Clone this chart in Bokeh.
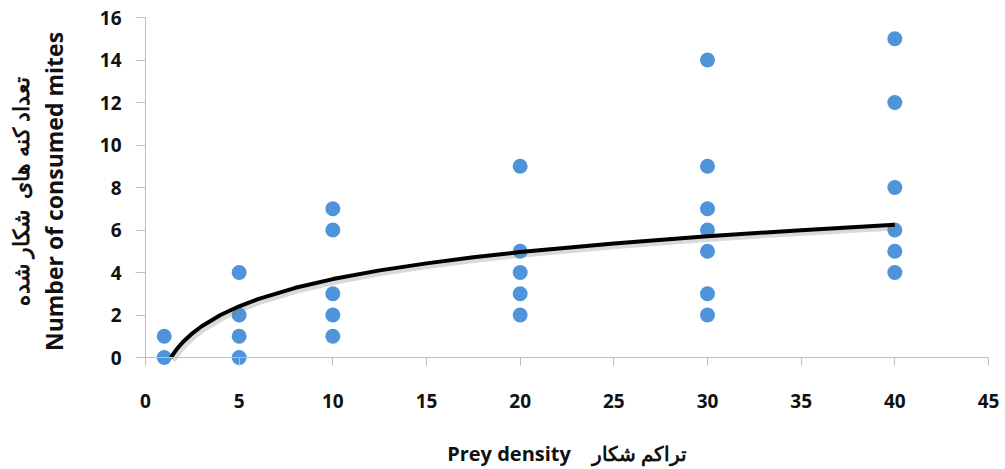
from bokeh.plotting import figure
from bokeh.models import Range1d, LinearAxis, FixedTicker, Span, ColumnDataSource
from bokeh.embed import file_html
from bokeh.resources import INLINE

# ---- data ----
density = [1, 1, 5, 5, 5, 5, 10, 10, 10, 10, 10, 20, 20, 20, 20, 20,
           30, 30, 30, 30, 30, 30, 30, 40, 40, 40, 40, 40, 40]
consumed = [0, 1, 0, 1, 2, 4, 1, 2, 3, 6, 7, 2, 3, 4, 5, 9,
            2, 3, 5, 6, 7, 9, 14, 4, 5, 6, 8, 12, 15]

# trend curve
trend_x = [1.35, 1.7, 2, 2.5, 3, 4, 5, 6, 8, 10, 12.5, 15, 17.5, 20, 25, 30, 35, 40]
trend_y = [0.0, 0.43, 0.73, 1.14, 1.47, 2.0, 2.41, 2.75, 3.28, 3.69, 4.10, 4.43,
           4.72, 4.96, 5.37, 5.71, 5.99, 6.25]

x_ticks = [0, 5, 10, 15, 20, 25, 30, 35, 40, 45]
y_ticks = [0, 2, 4, 6, 8, 10, 12, 14, 16]

x_title = "Prey density\u00a0\u00a0\u00a0\u00a0تراکم شکار"
y_title_en = "Number of consumed mites"
y_title_fa = "تعداد کنه های\u00a0\u00a0شکار شده"

FONT = "Open Sans"
AX_COL = "#BFBFBF"
TXT = "#111111"

px_per_unit = 21.25
y_pad = 8 / px_per_unit

p = figure(width=1000, height=469, output_backend="svg", toolbar_location=None,
           x_range=Range1d(0, 45), y_range=Range1d(-y_pad, 16),
           min_border_left=145, min_border_right=12, min_border_top=17,
           min_border_bottom=100, x_axis_location=None, y_axis_location=None)
p.outline_line_color = None
p.xgrid.visible = False
p.ygrid.visible = False
p.background_fill_color = "white"
p.border_fill_color = "white"

# main y axis
yax = LinearAxis(ticker=FixedTicker(ticks=y_ticks), axis_label=y_title_en)
yax.axis_line_color = AX_COL
yax.major_tick_line_color = AX_COL
yax.major_tick_out = 10
yax.major_tick_in = 0
yax.minor_tick_line_color = None
yax.major_label_standoff = 14
yax.major_label_text_font = FONT
yax.major_label_text_font_size = "19px"
yax.major_label_text_font_style = "bold"
yax.major_label_text_color = TXT
yax.axis_label_text_font = FONT
yax.axis_label_text_font_size = "23px"
yax.axis_label_text_font_style = "bold"
yax.axis_label_text_color = TXT
yax.axis_label_standoff = 27
p.add_layout(yax, "left")

# Persian y title as a second, bare axis
yax2 = LinearAxis(ticker=FixedTicker(ticks=[]), axis_label=y_title_fa)
yax2.axis_line_color = None
yax2.major_tick_line_color = None
yax2.minor_tick_line_color = None
yax2.major_tick_out = 0
yax2.major_tick_in = 0
yax2.major_label_text_font_size = "0px"
yax2.axis_label_text_font = FONT
yax2.axis_label_text_font_size = "22px"
yax2.axis_label_text_font_style = "bold"
yax2.axis_label_text_color = TXT
yax2.axis_label_standoff = 0
p.add_layout(yax2, "left")

# x axis (ticks upward from frame bottom to the y=0 line)
xax = LinearAxis(ticker=FixedTicker(ticks=x_ticks), axis_label=x_title)
xax.axis_line_color = None
xax.major_tick_line_color = AX_COL
xax.major_tick_in = 8
xax.major_tick_out = 0
xax.minor_tick_line_color = None
xax.major_label_standoff = 28
xax.major_label_text_font = FONT
xax.major_label_text_font_size = "19px"
xax.major_label_text_font_style = "bold"
xax.major_label_text_color = TXT
xax.axis_label_text_font = FONT
xax.axis_label_text_font_size = "20px"
xax.axis_label_text_font_style = "bold"
xax.axis_label_text_color = TXT
xax.axis_label_standoff = 29
p.add_layout(xax, "below")

p.add_layout(Span(location=0, dimension="width", line_color=AX_COL, line_width=1))

pts = ColumnDataSource(dict(x=density, y=consumed))
p.scatter("x", "y", source=pts, size=15, marker="circle",
          fill_color="#4F94D9", line_color=None)

# soft shadow of the trend line (shifted by a few pixels)
sx = 2.5 / (843 / 45)
sy = 3 / px_per_unit
p.extra_x_ranges = {"sh": Range1d(0 - sx, 45 - sx)}
p.extra_y_ranges = {"sh": Range1d(-y_pad + sy, 16 + sy)}
p.line(trend_x, trend_y, x_range_name="sh", y_range_name="sh",
       line_color="#808080", line_alpha=0.3, line_width=5)
p.line(trend_x, trend_y, line_color="black", line_width=4, line_join="round")

open("out.html", "w").write(file_html(p, INLINE))
